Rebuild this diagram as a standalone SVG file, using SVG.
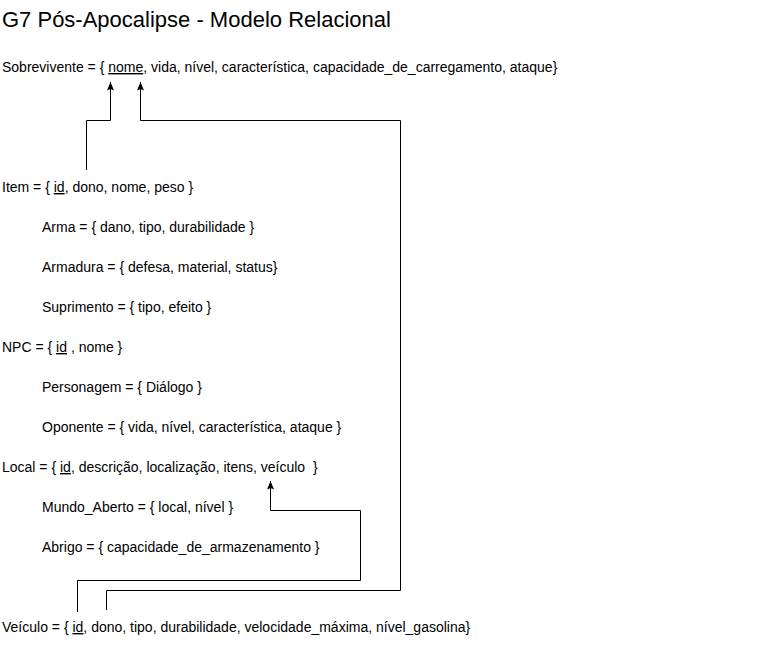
<svg xmlns="http://www.w3.org/2000/svg" width="772" height="645" viewBox="0 0 772 645">
<style>
text{font-family:"Liberation Sans",Arial,sans-serif;font-size:14px;fill:#000}
.t{font-size:22px}
.u{text-decoration:underline}
.c{fill:none;stroke:#000;stroke-width:1}
</style>
<defs>
<marker id="a" markerWidth="9" markerHeight="8" refX="8.5" refY="4" orient="auto" markerUnits="userSpaceOnUse" viewBox="0 0 9 8">
<path d="M0,0.5 L8.5,4 L0,7.5 L1.5,4 Z" fill="#000"/>
</marker>
</defs>
<rect width="772" height="645" fill="#fff"/>
<g id="title"><text class="t" x="2" y="27">G7 Pós-Apocalipse - Modelo Relacional</text></g>
<g id="sobrevivente"><text x="2" y="72">Sobrevivente = { <tspan class="u">nome</tspan>, vida, nível, característica, capacidade_de_carregamento, ataque}</text></g>
<g id="item"><text x="2" y="192">Item = { <tspan class="u">id</tspan>, dono, nome, peso }</text></g>
<g id="arma"><text x="42" y="232">Arma = { dano, tipo, durabilidade }</text></g>
<g id="armadura"><text x="42" y="272">Armadura = { defesa, material, status}</text></g>
<g id="suprimento"><text x="42" y="312">Suprimento = { tipo, efeito }</text></g>
<g id="npc"><text x="2" y="352">NPC = { <tspan class="u">id</tspan> , nome }</text></g>
<g id="personagem"><text x="42" y="392">Personagem = { Diálogo }</text></g>
<g id="oponente"><text x="42" y="432">Oponente = { vida, nível, característica, ataque }</text></g>
<g id="local"><text x="2" y="472" xml:space="preserve">Local = { <tspan class="u">id</tspan>, descrição, localização, itens, veículo  }</text></g>
<g id="mundo_aberto"><text x="42" y="512">Mundo_Aberto = { local, nível }</text></g>
<g id="abrigo"><text x="42" y="552">Abrigo = { capacidade_de_armazenamento }</text></g>
<g id="veiculo"><text x="2" y="632">Veículo = { <tspan class="u">id</tspan>, dono, tipo, durabilidade, velocidade_máxima, nível_gasolina}</text></g>
<g id="connectors">
<path class="c" d="M86.5,170 L86.5,120.5 L110.5,120.5 L110.5,82" marker-end="url(#a)"/>
<path class="c" d="M106.5,610 L106.5,590.5 L400.5,590.5 L400.5,120.5 L140.5,120.5 L140.5,82" marker-end="url(#a)"/>
<path class="c" d="M77.5,612 L77.5,580.5 L360.5,580.5 L360.5,510.5 L270.5,510.5 L270.5,481" marker-end="url(#a)"/>
</g>
</svg>
